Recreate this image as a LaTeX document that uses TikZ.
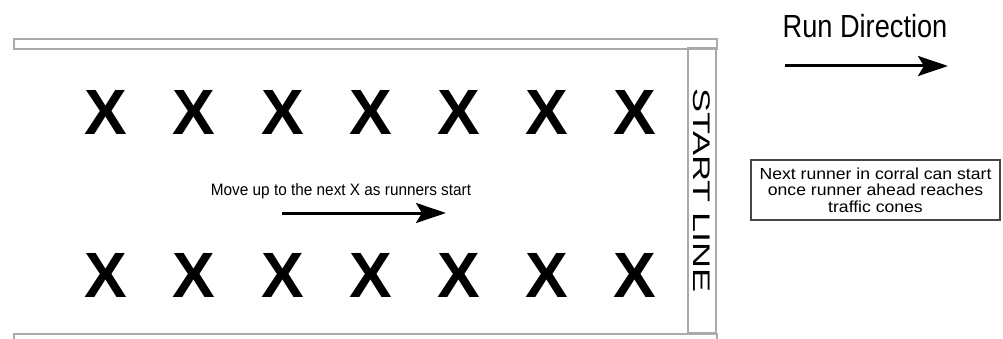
\documentclass[tikz,border=0pt]{standalone}
\usepackage{fontspec}
\setmainfont{Liberation Sans}
\newfontfamily\xfont{Liberation Sans}
\newfontfamily\runfont[FakeStretch=0.85]{Liberation Sans}
\newfontfamily\movefont[FakeStretch=0.93]{Liberation Sans}
\newfontfamily\notefont[FakeStretch=1.1]{Liberation Sans}
\newfontfamily\startfont[FakeStretch=1.5]{Liberation Sans}
\usetikzlibrary{arrows.meta}
\definecolor{railgray}{RGB}{170,170,170}
\definecolor{notegray}{RGB}{70,70,70}
\tikzset{
  rail/.style={draw=railgray, line width=1.6pt},
  xmark/.style={font=\xfont\bfseries\fontsize{64}{64}\selectfont, inner sep=0pt, anchor=base},
  bigarrow/.style={line width=3pt, -{Stealth[length=30pt,width=20pt,inset=6pt]}},
}
\begin{document}
\begin{tikzpicture}[x=1pt,y=-1pt]
\useasboundingbox (0,0) rectangle (1003,339);
\clip (0,0) rectangle (1003,339);
% rails
\node[rail, anchor=north west, minimum width=703pt, minimum height=10pt, inner sep=0pt] (toprail) at (13,38) {};
\node[rail, anchor=north west, minimum width=703pt, minimum height=14pt, inner sep=0pt] (botrail) at (13,333) {};
% start line
\node[rail, rotate=-90, minimum width=285pt, minimum height=28pt, inner sep=0pt,
      font=\startfont\fontsize{24}{24}\selectfont] (start) at (702,190.5) {START LINE};
% X marks
\foreach \i in {0,...,6}{
  \node[xmark] (t\i) at (106+88.2*\i,135) {X};
  \node[xmark] (b\i) at (106+88.2*\i,297) {X};
}
% middle text and arrow
\node[font=\movefont\fontsize{16.5}{16.5}\selectfont, anchor=base, inner sep=0pt] (move) at (341,195) {Move up to the next X as runners start};
\coordinate (ma) at (282,213);
\coordinate (mb) at (446,213);
\draw[bigarrow] (ma) -- (mb);
% run direction
\node[font=\runfont\fontsize{32}{32}\selectfont, anchor=base, inner sep=0pt] (run) at (865,38) {Run Direction};
\coordinate (ra) at (785,66);
\coordinate (rb) at (948,66);
\draw[bigarrow] (ra) -- (rb);
% note box
\node[draw=notegray, line width=1.4pt, minimum width=249pt, minimum height=60pt, inner sep=0pt,
      align=center, font=\notefont\fontsize{16}{16.5}\selectfont] (note) at (875.5,190)
  {Next runner in corral can start\\once runner ahead reaches\\traffic cones};
\end{tikzpicture}
\end{document}
